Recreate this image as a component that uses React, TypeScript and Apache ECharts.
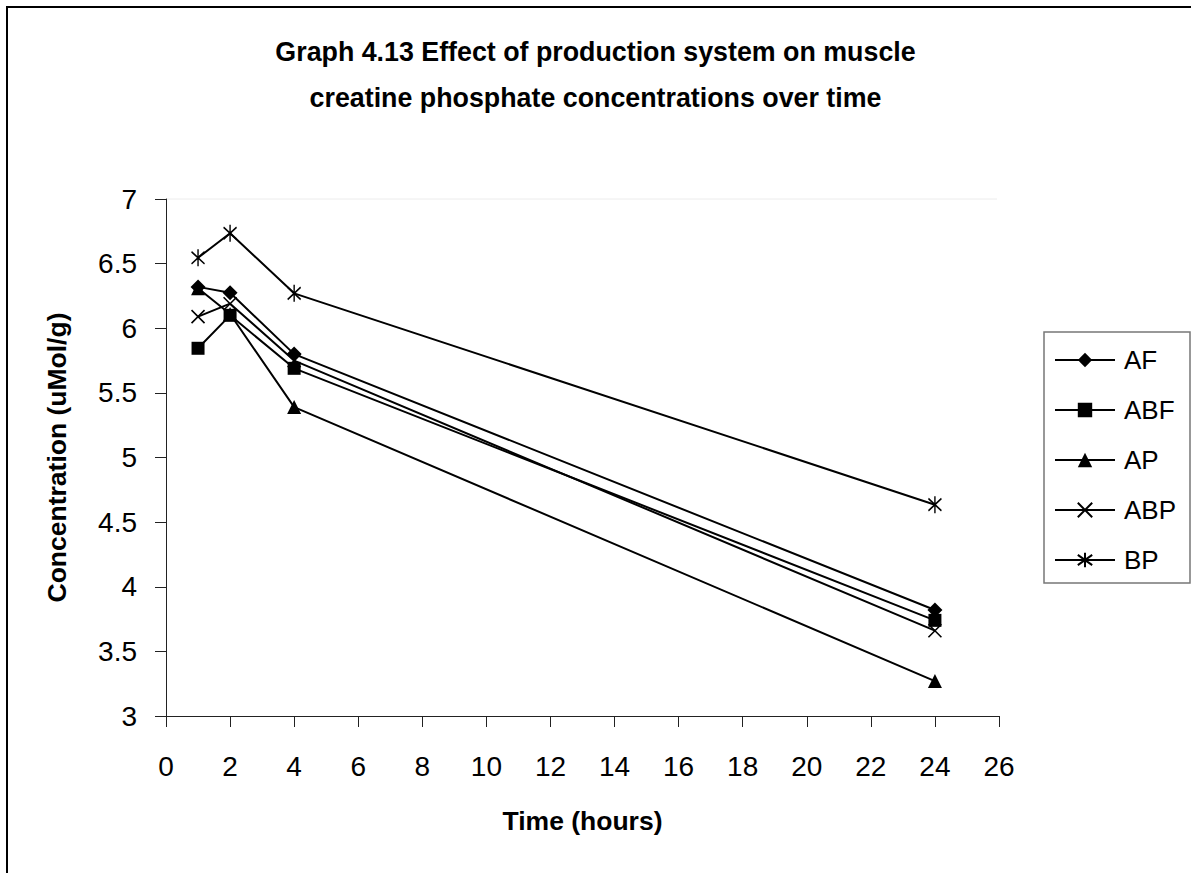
import React, { useEffect, useRef } from "react";
import * as echarts from "echarts";

const TITLE_LINES = [
  "Graph 4.13 Effect of production system on muscle",
  "creatine phosphate concentrations over time",
];
const X_TITLE = "Time (hours)";
const Y_TITLE = "Concentration (uMol/g)";

const TIMES = [1, 2, 4, 24];
const SERIES_NAMES = ["AF", "ABF", "AP", "ABP", "BP"];
const AF = [6.32, 6.275, 5.8, 3.82];
const ABF = [5.845, 6.1, 5.69, 3.74];
const AP = [6.31, 6.11, 5.39, 3.27];
const ABP = [6.09, 6.19, 5.75, 3.66];
const BP = [6.545, 6.735, 6.27, 4.635];

const X_MIN = 0;
const X_MAX = 26;
const X_STEP = 2;
const Y_MIN = 3;
const Y_MAX = 7;
const Y_STEP = 0.5;

const FONT = 'Arial, "Liberation Sans", Helvetica, sans-serif';

const CROSS = "path://M0 0L10 10M10 0L0 10";
const STAR = "path://M0 0L10 10M10 0L0 10M5 -2L5 12";

export default function App() {
  const ref = useRef<HTMLDivElement>(null);

  useEffect(() => {
    if (!ref.current) return;
    const chart = echarts.init(ref.current, undefined, { renderer: "svg" });

    const values = [AF, ABF, AP, ABP, BP];
    const symbols: any[] = ["diamond", "rect", "triangle", CROSS, STAR];
    const sizes: any[] = [15, 13, 14, 13, [13, 17]];
    const stroked = [false, false, false, true, true];

    const series = SERIES_NAMES.map((name, i) => ({
      name,
      type: "line",
      data: TIMES.map((t, j) => [t, values[i][j]]),
      symbol: symbols[i],
      symbolSize: sizes[i],
      showSymbol: true,
      lineStyle: { color: "#000", width: 2 },
      itemStyle: stroked[i]
        ? { color: "#000", borderColor: "#000", borderWidth: 1.6 }
        : { color: "#000", borderWidth: 0 },
      emphasis: { disabled: true },
      z: 3,
    }));

    chart.setOption({
      animation: false,
      backgroundColor: "#fff",
      title: {
        text: TITLE_LINES.join("\n"),
        left: "center",
        top: 24,
        textStyle: {
          fontFamily: FONT,
          fontWeight: "bold",
          fontSize: 26.8,
          lineHeight: 46,
          color: "#000",
        },
      },
      grid: {
        left: 166,
        top: 199,
        width: 833,
        height: 517,
        containLabel: false,
      },
      xAxis: {
        type: "value",
        min: X_MIN,
        max: X_MAX,
        interval: X_STEP,
        name: X_TITLE,
        nameLocation: "middle",
        nameGap: 91,
        nameTextStyle: {
          fontFamily: FONT,
          fontWeight: "bold",
          fontSize: 26.5,
          color: "#000",
        },
        axisLine: { show: true, onZero: false, lineStyle: { color: "#222", width: 1 } },
        axisTick: { show: true, inside: false, length: 11, lineStyle: { color: "#222", width: 1 } },
        axisLabel: {
          margin: 36,
          fontFamily: FONT,
          fontSize: 28,
          color: "#000",
        },
        splitLine: { show: false },
      },
      yAxis: {
        type: "value",
        min: Y_MIN,
        max: Y_MAX,
        interval: Y_STEP,
        name: Y_TITLE,
        nameLocation: "middle",
        nameGap: 96,
        nameTextStyle: {
          fontFamily: FONT,
          fontWeight: "bold",
          fontSize: 26.5,
          color: "#000",
        },
        axisLine: { show: true, onZero: false, lineStyle: { color: "#222", width: 1 } },
        axisTick: { show: true, inside: false, length: 11, lineStyle: { color: "#222", width: 1 } },
        axisLabel: {
          margin: 29,
          fontFamily: FONT,
          fontSize: 28,
          color: "#000",
        },
        splitLine: { show: false },
      },
      legend: {
        orient: "vertical",
        left: 1054,
        top: 347,
        padding: 0,
        itemWidth: 60,
        itemHeight: 18,
        itemGap: 24,
        selectedMode: false,
        textStyle: {
          fontFamily: FONT,
          fontSize: 26,
          lineHeight: 26,
          color: "#000",
          padding: [0, 0, 0, 4],
        },
        data: SERIES_NAMES,
      },
      graphic: [
        {
          type: "rect",
          silent: true,
          shape: { x: 7, y: 7, width: 1400, height: 1200 },
          style: { fill: "none", stroke: "#000", lineWidth: 2 },
          z: -10,
        },
        {
          type: "line",
          silent: true,
          shape: { x1: 167, y1: 199, x2: 997, y2: 199 },
          style: { stroke: "#ececec", lineWidth: 1 },
          z: -5,
        },
        {
          type: "rect",
          silent: true,
          shape: { x: 1044, y: 332, width: 146, height: 251 },
          style: { fill: "#fff", stroke: "#777", lineWidth: 1.5 },
          z: -1,
        },
      ],
      series,
    });

    return () => chart.dispose();
  }, []);

  return (
    <div
      ref={ref}
      style={{ position: "fixed", left: 0, top: 0, width: 1191, height: 873 }}
    />
  );
}
